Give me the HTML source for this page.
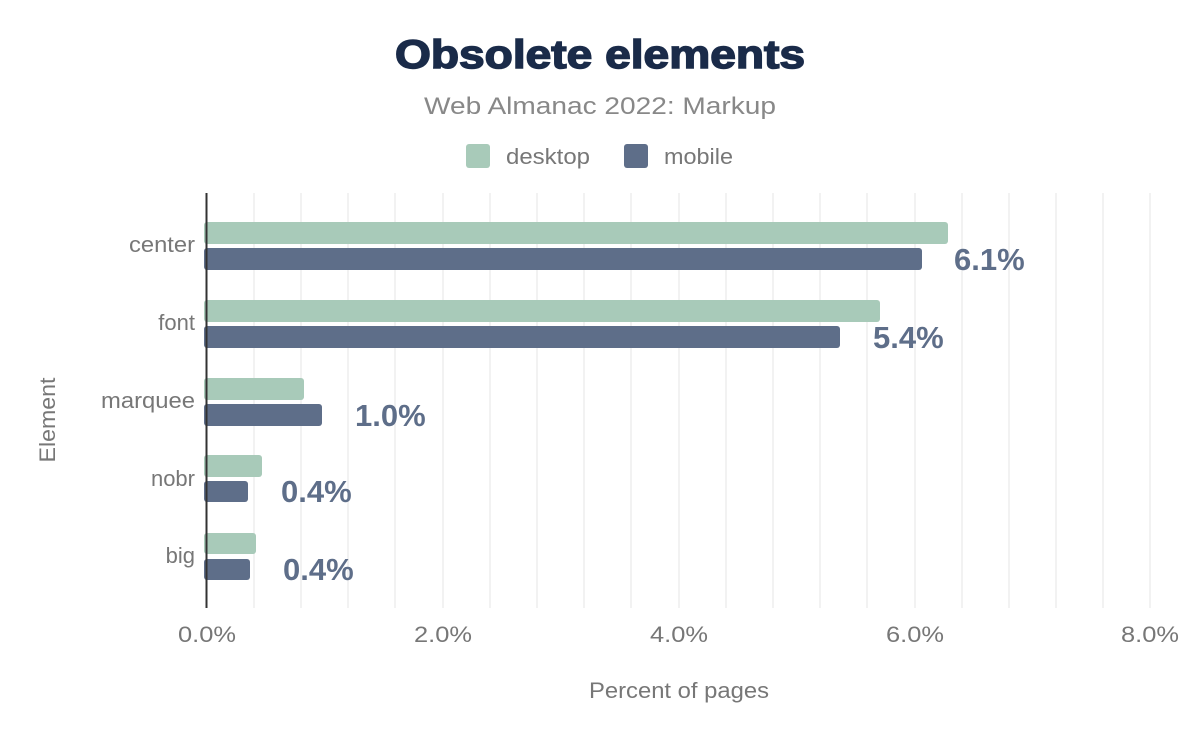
<!DOCTYPE html>
<html><head><meta charset="utf-8"><style>
body{margin:0;background:#fff;}
svg{display:block;font-family:"Liberation Sans",sans-serif;}
</style></head><body>
<svg width="1200" height="742" viewBox="0 0 1200 742">
<text x="600" y="68" text-anchor="middle" font-size="40" font-weight="bold" fill="#1a2b49" stroke="#1a2b49" stroke-width="1.5" textLength="410" lengthAdjust="spacingAndGlyphs">Obsolete elements</text>
<text x="600" y="114" text-anchor="middle" font-size="24" fill="#888" textLength="352" lengthAdjust="spacingAndGlyphs">Web Almanac 2022: Markup</text>
<rect x="466" y="144" width="24" height="24" rx="3" fill="#a8cab9"/>
<text x="506" y="164" font-size="22" fill="#777" textLength="84" lengthAdjust="spacingAndGlyphs">desktop</text>
<rect x="624" y="144" width="24" height="24" rx="3" fill="#5e6e89"/>
<text x="664" y="164" font-size="22" fill="#777" textLength="69" lengthAdjust="spacingAndGlyphs">mobile</text>
<g stroke="#eee" stroke-width="1.5">
<line x1="254" y1="193" x2="254" y2="608"/><line x1="301" y1="193" x2="301" y2="608"/><line x1="348" y1="193" x2="348" y2="608"/><line x1="395" y1="193" x2="395" y2="608"/><line x1="443" y1="193" x2="443" y2="608"/>
<line x1="490" y1="193" x2="490" y2="608"/><line x1="537" y1="193" x2="537" y2="608"/><line x1="584" y1="193" x2="584" y2="608"/><line x1="631" y1="193" x2="631" y2="608"/><line x1="679" y1="193" x2="679" y2="608"/>
<line x1="726" y1="193" x2="726" y2="608"/><line x1="773" y1="193" x2="773" y2="608"/><line x1="820" y1="193" x2="820" y2="608"/><line x1="867" y1="193" x2="867" y2="608"/><line x1="915" y1="193" x2="915" y2="608"/>
<line x1="962" y1="193" x2="962" y2="608"/><line x1="1009" y1="193" x2="1009" y2="608"/><line x1="1056" y1="193" x2="1056" y2="608"/><line x1="1103" y1="193" x2="1103" y2="608"/><line x1="1150" y1="193" x2="1150" y2="608"/>
</g>
<g fill="#a8cab9">
<rect x="204" y="222" width="744" height="22" rx="3"/>
<rect x="204" y="300" width="676" height="22" rx="3"/>
<rect x="204" y="378" width="100" height="22" rx="3"/>
<rect x="204" y="455" width="58" height="22" rx="3"/>
<rect x="204" y="533" width="52" height="21" rx="3"/>
</g>
<g fill="#5e6e89">
<rect x="204" y="248" width="718" height="22" rx="3"/>
<rect x="204" y="326" width="636" height="22" rx="3"/>
<rect x="204" y="404" width="118" height="22" rx="3"/>
<rect x="204" y="481" width="44" height="21" rx="3"/>
<rect x="204" y="559" width="46" height="21" rx="3"/>
</g>
<line x1="206.5" y1="193" x2="206.5" y2="608" stroke="#333" stroke-width="2"/>
<g font-size="31" font-weight="bold" fill="#5e6e89">
<text x="954" y="270">6.1%</text>
<text x="873" y="348">5.4%</text>
<text x="355" y="426">1.0%</text>
<text x="281" y="502">0.4%</text>
<text x="283" y="580">0.4%</text>
</g>
<g font-size="22" fill="#777" text-anchor="end">
<text x="195" y="252" textLength="66" lengthAdjust="spacingAndGlyphs">center</text>
<text x="195" y="330">font</text>
<text x="195" y="408" textLength="94" lengthAdjust="spacingAndGlyphs">marquee</text>
<text x="195" y="486">nobr</text>
<text x="195" y="563">big</text>
</g>
<g font-size="22" fill="#777" text-anchor="middle">
<text x="207" y="642" textLength="58" lengthAdjust="spacingAndGlyphs">0.0%</text>
<text x="443" y="642" textLength="58" lengthAdjust="spacingAndGlyphs">2.0%</text>
<text x="679" y="642" textLength="58" lengthAdjust="spacingAndGlyphs">4.0%</text>
<text x="915" y="642" textLength="58" lengthAdjust="spacingAndGlyphs">6.0%</text>
<text x="1150" y="642" textLength="58" lengthAdjust="spacingAndGlyphs">8.0%</text>
<text x="679" y="698" textLength="180" lengthAdjust="spacingAndGlyphs">Percent of pages</text>
</g>
<text transform="translate(55,420) rotate(-90)" font-size="22" fill="#777" text-anchor="middle" textLength="85" lengthAdjust="spacingAndGlyphs">Element</text>
</svg>
</body></html>
